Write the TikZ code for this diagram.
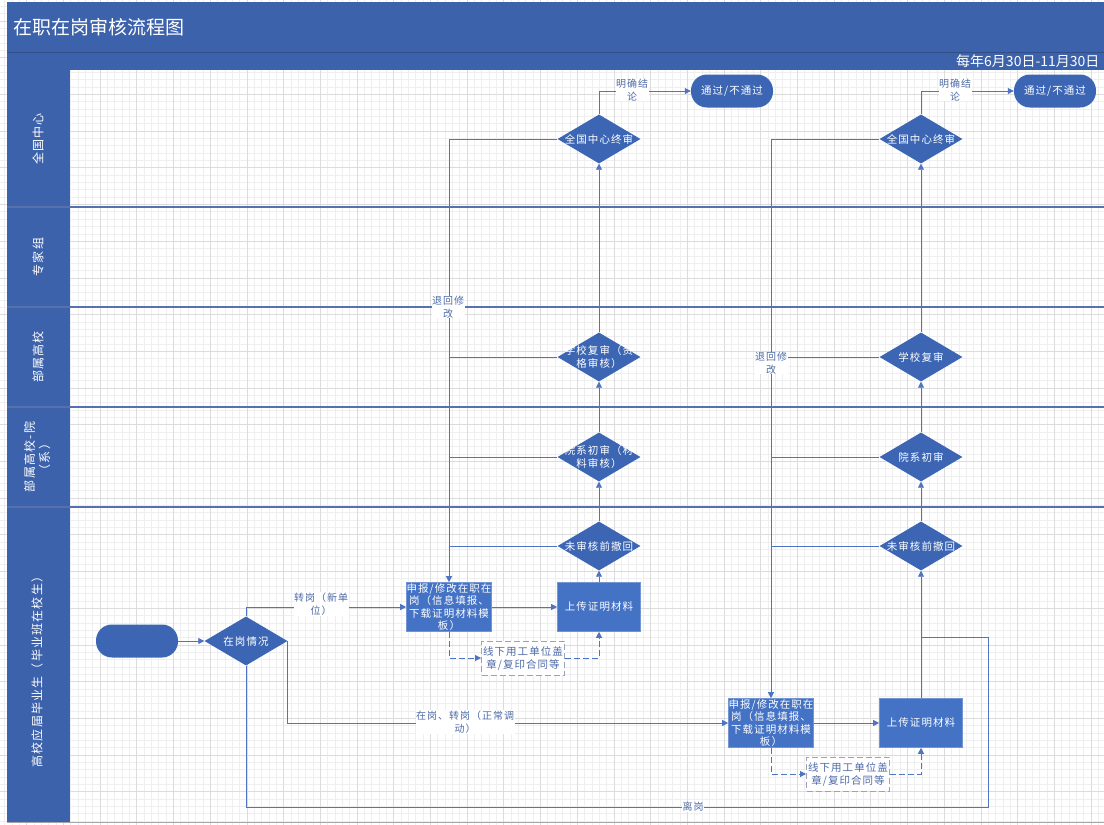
\documentclass[tikz,border=0pt]{standalone}
\usepackage{fontspec}
\setmainfont{Noto Sans CJK SC}
\newfontfamily\cjksp{Noto Sans CJK SC}[LetterSpace=10]
\usetikzlibrary{shapes.geometric,arrows.meta}
\definecolor{headblue}{HTML}{3D62AC}
\definecolor{shapeblue}{HTML}{3C66B4}
\definecolor{boxblue}{HTML}{4472C4}
\definecolor{linecol}{HTML}{4F74C2}
\definecolor{lanesep}{HTML}{5671AE}
\definecolor{textblue}{HTML}{4F6BA8}
\definecolor{dashcol}{HTML}{98A3BC}
\definecolor{gminorc}{HTML}{EFEFEF}
\definecolor{gmajorc}{HTML}{DCDCDC}
\begin{document}
\begin{tikzpicture}[x=1pt,y=-1pt,
  gminor/.style={draw=gminorc,line width=0.5pt},
  gmajor/.style={draw=gmajorc,line width=0.6pt},
  sepline/.style={draw=lanesep,line width=1.2pt},
  lanelab/.style={text=white,rotate=90,align=center,font=\fontsize{12}{15}\selectfont\cjksp},
  dia/.style={diamond,fill=shapeblue,minimum width=83pt,minimum height=49pt,inner sep=0pt},
  dlab/.style={text=white,align=center,font=\fontsize{10.5}{13}\selectfont\cjksp},
  term/.style={rectangle,rounded corners=16pt,fill=shapeblue,minimum width=82pt,minimum height=33pt,inner sep=0pt,text=white,font=\fontsize{10.5}{13}\selectfont\cjksp},
  pbox/.style={rectangle,fill=boxblue,draw=boxblue!75!white,line width=0.6pt,minimum width=83pt,minimum height=49pt,inner sep=0pt,text=white,align=center,font=\fontsize{10.5}{12.5}\selectfont\cjksp},
  dbox/.style={rectangle,fill=white,draw=dashcol,dash pattern=on 6pt off 3pt,line width=0.9pt,minimum width=83pt,minimum height=34pt,inner sep=0pt,text=textblue,align=center,font=\fontsize{10.5}{13}\selectfont\cjksp},
  lnk/.style={draw=linecol,line width=0.8pt},
  conn/.style={lnk,-{Triangle[width=6pt,length=6pt]}},
  dconn/.style={lnk,dash pattern=on 6pt off 3pt,-{Triangle[width=6pt,length=6pt]}},
  lbl/.style={fill=white,inner sep=0.5pt,text=textblue,align=center,font=\fontsize{10}{12.5}\selectfont\cjksp}
]
\useasboundingbox (0,0) rectangle (1104,825);
\fill[white] (0,0) rectangle (1104,825);
% grid
\foreach \i in {0,...,150} \draw[gminor] ({4.58+7.34*\i},0) -- ({4.58+7.34*\i},825);
\foreach \i in {0,...,113} \draw[gminor] (0,{6.22+7.34*\i}) -- (1104,{6.22+7.34*\i});
\foreach \i in {0,...,30} \draw[gmajor] ({-10.1+36.7*\i},0) -- ({-10.1+36.7*\i},825);
\foreach \i in {0,...,23} \draw[gmajor] (0,{-15.8+36.7*\i}) -- (1104,{-15.8+36.7*\i});
% pool
\fill[headblue] (7,2) rectangle (1104,70);
\draw[draw=headblue!80!black,line width=0.8pt] (7,52) -- (1104,52);
\fill[headblue] (7,70) rectangle (70,822);
\draw[sepline] (7,207) -- (1104,207);
\draw[sepline] (7,307) -- (1104,307);
\draw[sepline] (7,407) -- (1104,407);
\draw[sepline] (7,507) -- (1104,507);
\draw[draw=gray!70,line width=0.8pt] (7,822.5) -- (1104,822.5);
\node[anchor=west,text=white,font=\fontsize{19}{22}\selectfont] (title) at (10,27) {在职在岗审核流程图};
\node[anchor=east,text=white,font=\fontsize{14}{16}\selectfont] (date) at (1103,61) {每年6月30日-11月30日};
% lane labels
\node[lanelab] (L1) at (38,139) {全国中心};
\node[lanelab] (L2) at (38,257) {专家组};
\node[lanelab] (L3) at (38,357) {部属高校};
\node[lanelab] (L4) at (37,457) {部属高校-院\\（系）};
\node[lanelab] (L5) at (37,669) {高校应届毕业生（毕业班在校生）};
% shapes
\node[term] (start) at (137,641) {};
\node[dia,label={[dlab]center:在岗情况}] (sit) at (246,641) {};
\node[pbox] (sb1) at (449,607) {申报/修改在职在\\岗（信息填报、\\下载证明材料模\\板）};
\node[pbox] (up1) at (599,607) {上传证明材料};
\node[dbox] (db1) at (523,658) {线下用工单位盖\\章/复印合同等};
\node[dia,label={[dlab]center:未审核前撤回}] (wd1) at (599,546) {};
\node[dia,label={[dlab]center:院系初审（材\\料审核）}] (yx1) at (599,457) {};
\node[dia,label={[dlab]center:学校复审（资\\格审核）}] (xx1) at (599,357) {};
\node[dia,label={[dlab]center:全国中心终审}] (qg1) at (599,139) {};
\node[term] (t1) at (732,91) {通过/不通过};
\node[pbox] (sb2) at (771,723) {申报/修改在职在\\岗（信息填报、\\下载证明材料模\\板）};
\node[pbox] (up2) at (921,723) {上传证明材料};
\node[dbox] (db2) at (848,774) {线下用工单位盖\\章/复印合同等};
\node[dia,label={[dlab]center:未审核前撤回}] (wd2) at (921,546) {};
\node[dia,label={[dlab]center:院系初审}] (yx2) at (921,457) {};
\node[dia,label={[dlab]center:学校复审}] (xx2) at (921,357) {};
\node[dia,label={[dlab]center:全国中心终审}] (qg2) at (921,139) {};
\node[term] (t2) at (1055,91) {通过/不通过};
% connectors
\coordinate (r1) at (988,807);
\coordinate (r2) at (988,637);
\draw[conn] (start) -- (sit);
\draw[conn] (sit.north) |- (sb1.west);
\draw[conn] (sit.east) |- (sb2.west);
\draw[lnk] (sit.south) |- (r1) -- (r2) -- (r2 -| up2.north);
% column 1
\draw[conn] (sb1) -- (up1);
\draw[dconn] (sb1.south) |- (db1.west);
\draw[dconn] (db1.east) -| (up1.south);
\draw[conn] (up1) -- (wd1);
\draw[conn] (wd1) -- (yx1);
\draw[conn] (yx1) -- (xx1);
\draw[conn] (xx1) -- (qg1);
\draw[conn] (qg1.north) |- (t1.west);
\draw[conn] (qg1.west) -| (sb1.north);
\draw[lnk] (xx1.west) -- (xx1.west -| sb1.north);
\draw[lnk] (yx1.west) -- (yx1.west -| sb1.north);
\draw[lnk] (wd1.west) -- (wd1.west -| sb1.north);
% column 2
\draw[conn] (sb2) -- (up2);
\draw[dconn] (sb2.south) |- (db2.west);
\draw[dconn] (db2.east) -| (up2.south);
\draw[conn] (up2) -- (wd2);
\draw[conn] (wd2) -- (yx2);
\draw[conn] (yx2) -- (xx2);
\draw[conn] (xx2) -- (qg2);
\draw[conn] (qg2.north) |- (t2.west);
\draw[conn] (qg2.west) -| (sb2.north);
\draw[lnk] (xx2.west) -- (xx2.west -| sb2.north);
\draw[lnk] (yx2.west) -- (yx2.west -| sb2.north);
\draw[lnk] (wd2.west) -- (wd2.west -| sb2.north);
% connector labels
\node[lbl] (l1) at (321,604) {转岗（新单\\位）};
\node[lbl] (l2) at (465,722) {在岗、转岗（正常调\\动）};
\node[lbl] (l3) at (693,807) {离岗};
\node[lbl] (l4) at (632,90) {明确结\\论};
\node[lbl] (l5) at (955,90) {明确结\\论};
\node[lbl] (l6) at (448,307) {退回修\\改};
\node[lbl] (l7) at (771,363) {退回修\\改};
\end{tikzpicture}
\end{document}
